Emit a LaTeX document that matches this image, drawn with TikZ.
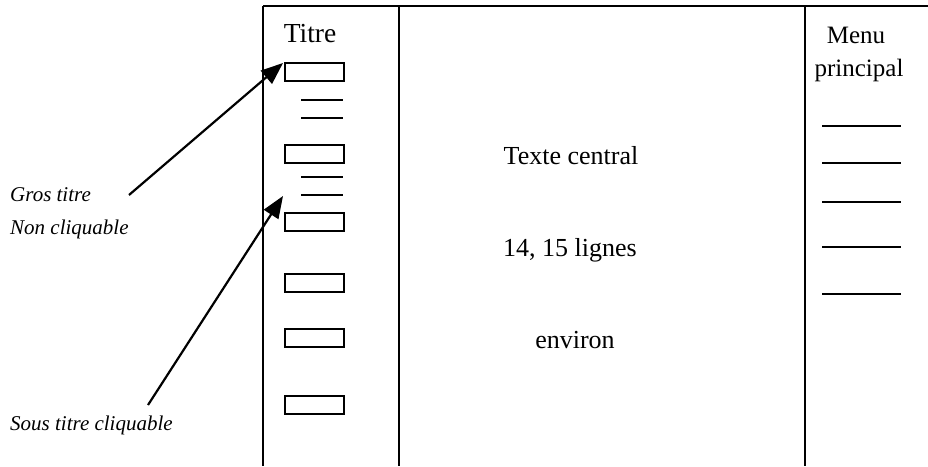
\documentclass[tikz,border=0pt]{standalone}
\usepackage{fontspec}
\setmainfont{Liberation Serif}
\usetikzlibrary{arrows.meta}
\begin{document}
\begin{tikzpicture}[x=1pt,y=-1pt,
  frame/.style={line width=2.4pt},
  slot/.style={draw,line width=2.1pt,minimum width=59pt,minimum height=18pt,inner sep=0pt,anchor=north west},
  rule/.style={line width=1.9pt},
  lbl/.style={font=\fontsize{26}{30}\selectfont,inner sep=0pt,anchor=base},
  side/.style={font=\fontsize{21}{24}\selectfont\itshape,inner sep=0pt,anchor=base west},
  arr/.style={line width=2.2pt,-{Triangle[length=22pt,width=17pt]}}]
\useasboundingbox (0,0) rectangle (928,466);
% frame
\coordinate (tl) at (263,6);
\coordinate (tr) at (928,6);
\coordinate (bl) at (263,466);
\coordinate (m1t) at (399,6);
\coordinate (m1b) at (399,466);
\coordinate (m2t) at (805,6);
\coordinate (m2b) at (805,466);
\draw[frame] (tl) -- (tr);
\draw[frame] (tl) -- (bl);
\draw[frame] (m1t) -- (m1b);
\draw[frame] (m2t) -- (m2b);
% headings
\node[lbl,font=\fontsize{27.5}{30}\selectfont] (titre) at (310,42) {Titre};
\node[lbl,font=\fontsize{25}{30}\selectfont] (menu) at (856,43) {Menu};
\node[lbl,font=\fontsize{25}{30}\selectfont] (princ) at (859,76) {principal};
% central
\node[lbl] (c1) at (571,164) {Texte central};
\node[lbl] (c2) at (570,256) {14, 15 lignes};
\node[lbl] (c3) at (575,348) {environ};
% left column boxes
\node[slot] (r1) at (284,62) {};
\node[slot] (r2) at (284,144) {};
\node[slot] (r3) at (284,212) {};
\node[slot] (r4) at (284,273) {};
\node[slot] (r5) at (284,328) {};
\node[slot] (r6) at (284,395) {};
% short lines
\coordinate (s1a) at (301,100); \coordinate (s1b) at (343,100);
\coordinate (s2a) at (301,118); \coordinate (s2b) at (343,118);
\coordinate (s3a) at (301,177); \coordinate (s3b) at (343,177);
\coordinate (s4a) at (301,195); \coordinate (s4b) at (343,195);
\draw[rule] (s1a) -- (s1b);
\draw[rule] (s2a) -- (s2b);
\draw[rule] (s3a) -- (s3b);
\draw[rule] (s4a) -- (s4b);
% menu lines
\coordinate (m1a) at (822,126); \coordinate (m1z) at (901,126);
\coordinate (m2a) at (822,163); \coordinate (m2z) at (901,163);
\coordinate (m3a) at (822,202); \coordinate (m3z) at (901,202);
\coordinate (m4a) at (822,247); \coordinate (m4z) at (901,247);
\coordinate (m5a) at (822,294); \coordinate (m5z) at (901,294);
\draw[rule] (m1a) -- (m1z);
\draw[rule] (m2a) -- (m2z);
\draw[rule] (m3a) -- (m3z);
\draw[rule] (m4a) -- (m4z);
\draw[rule] (m5a) -- (m5z);
% side labels
\node[side] (gros) at (10,201) {Gros titre};
\node[side] (non) at (10,234) {Non cliquable};
\node[side] (sous) at (10,430) {Sous titre cliquable};
% arrows
\coordinate (a1s) at (129,195);
\coordinate (a1e) at (283,63);
\coordinate (a2s) at (148,405);
\coordinate (a2e) at (283,196);
\draw[arr] (a1s) -- (a1e);
\draw[arr] (a2s) -- (a2e);
\end{tikzpicture}
\end{document}
